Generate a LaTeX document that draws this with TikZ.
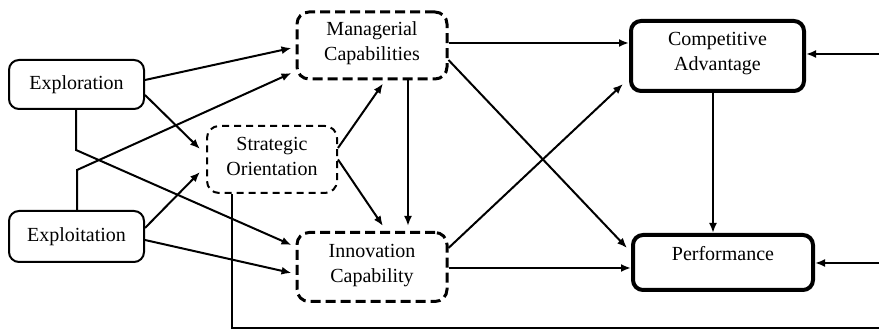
\documentclass[tikz,border=0pt]{standalone}
\usepackage{fontspec}
\setmainfont{Liberation Serif}
\usetikzlibrary{arrows.meta,calc}
\begin{document}
\begin{tikzpicture}[x=0.5pt,y=-0.5pt,
  box/.style={draw,rounded corners=5pt,align=center,inner sep=0pt,
    font=\fontsize{10}{12.5}\selectfont},
  thinbox/.style={box,line width=1pt},
  thickbox/.style={box,line width=2pt},
  dbox/.style={box,line width=1.5pt,dash pattern=on 5pt off 2.5pt,rounded corners=6pt},
  tdbox/.style={box,line width=1pt,dash pattern=on 3.5pt off 2.5pt,rounded corners=6pt},
  conn/.style={line width=1pt,-{Latex[length=5pt,width=4pt]}},
  plain/.style={line width=1pt}]
\useasboundingbox (0,0) rectangle (879,330);
\node[thinbox,minimum width=67.5pt,minimum height=24.5pt] (expl) at (76.5,84.5) {Exploration};
\node[thinbox,minimum width=67.5pt,minimum height=25.5pt] (explt) at (76.5,236.5) {Exploitation};
\node[dbox,minimum width=75pt,minimum height=33.5pt,text depth=4pt] (mgr) at (372,45.5) {Managerial\\Capabilities};
\node[tdbox,minimum width=65pt,minimum height=33.5pt,text depth=3pt] (strat) at (272,159.5) {Strategic\\Orientation};
\node[dbox,minimum width=75pt,minimum height=34.5pt,text depth=4pt] (innov) at (372,267) {Innovation\\Capability};
\node[thickbox,minimum width=86.5pt,minimum height=35pt,text depth=5pt] (comp) at (717.5,56) {Competitive\\Advantage};
\node[thickbox,minimum width=90pt,minimum height=27.5pt,text depth=9pt] (perf) at (723,262.5) {Performance};
\coordinate (b1) at (76,150);
\coordinate (b2) at (77,170);
\coordinate (r1) at (879,54);
\coordinate (r2) at (879,263);
\coordinate (r3) at (879,328);
% connectors
\draw[conn] ([yshift=2.25pt]expl.east) -- ([xshift=-2pt,yshift=-1.25pt]mgr.west);
\draw[conn] ([yshift=-5.25pt]expl.east) -- ([xshift=-3pt,yshift=5.25pt]strat.west);
\draw[conn] ([yshift=4.25pt]explt.east) -- ([xshift=-3pt,yshift=-6.25pt]strat.west);
\draw[conn] ([yshift=-1.75pt]explt.east) -- ([xshift=-2pt,yshift=-3pt]innov.west);
\draw[conn] (expl.south -| b1) -- (b1) -- ([xshift=-2pt,yshift=11pt]innov.west);
\draw[conn] (explt.north -| b2) -- (b2) -- ([xshift=-2pt,yshift=-13.75pt]mgr.west);
\draw[conn] ([yshift=5.75pt]strat.east) -- ([xshift=5.5pt,yshift=-1.5pt]mgr.south);
\draw[conn] (strat.east) -- ([xshift=5.5pt,yshift=2.5pt]innov.north);
\draw[conn] ([xshift=18pt]mgr.south) -- ([xshift=18pt,yshift=2.5pt]innov.north);
\draw[conn] ([yshift=1.25pt]mgr.east) -- ([yshift=1.25pt]mgr.east -| comp.west);
\draw[conn] ([yshift=-7.25pt]mgr.east) -- ([xshift=-2pt,yshift=7.25pt]perf.west);
\draw[conn] ([yshift=9.5pt]innov.east) -- ([xshift=-3pt,yshift=-14pt]comp.west);
\draw[conn] ([yshift=-0.5pt]innov.east) -- ([yshift=-0.5pt]innov.east -| perf.west);
\draw[conn] ([xshift=-2.25pt]comp.south) -- ([xshift=-2.25pt]comp.south |- perf.north);
\draw[conn] (r1) -- (r1 -| comp.east);
\draw[conn] (r2) -- (r2 -| perf.east);
\draw[plain] ([xshift=-20pt]strat.south) |- (r3);
\end{tikzpicture}
\end{document}
